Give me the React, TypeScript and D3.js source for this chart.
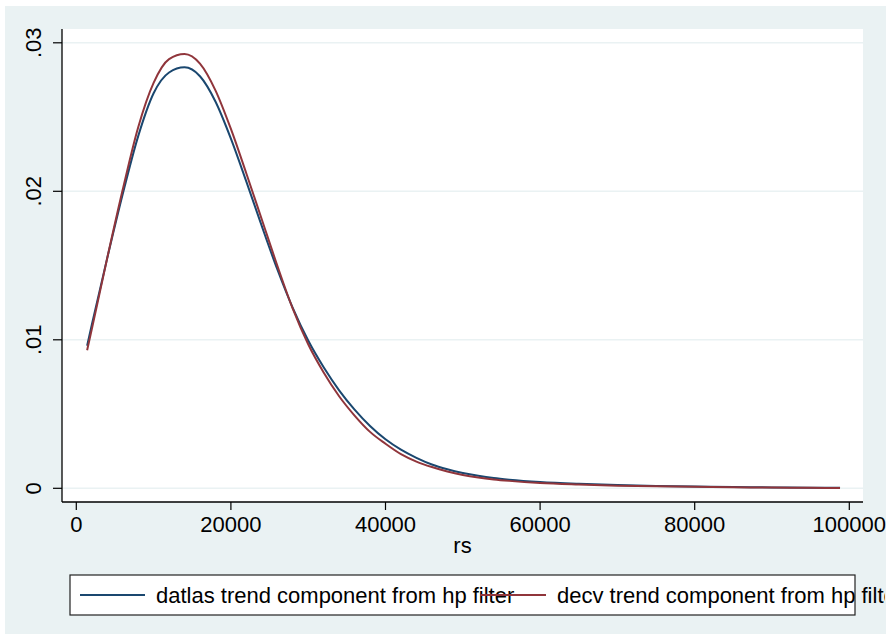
import React from "react";
import * as d3 from "d3";

const rsValues = [1400, 2000, 4000, 6000, 8000, 10000, 12000, 14000, 16000, 18000, 20000, 22000, 24000, 26000, 28000, 30000, 32000, 34000, 36000, 38000, 40000, 42000, 44000, 46000, 48000, 50000, 52000, 54000, 56000, 60000, 65000, 70000, 75000, 80000, 85000, 90000, 95000, 98800];
const datlasTrend = [0.0096, 0.0110, 0.0155, 0.0198, 0.0237, 0.0266, 0.0280, 0.02835, 0.02775, 0.02605, 0.02355, 0.02065, 0.01765, 0.01475, 0.01215, 0.00995, 0.00815, 0.0066, 0.0053, 0.0042, 0.0033, 0.0026, 0.00205, 0.0016, 0.00128, 0.00103, 0.00084, 0.00069, 0.00058, 0.00042, 0.0003, 0.00022, 0.00016, 0.00012, 0.00009, 0.00006, 0.00004, 0.00003];
const decvTrend = [0.0093, 0.0107, 0.0155, 0.0201, 0.0243, 0.0273, 0.0289, 0.02925, 0.0286, 0.0268, 0.0242, 0.0212, 0.0181, 0.0150, 0.0121, 0.0097, 0.0078, 0.0062, 0.0049, 0.0038, 0.0030, 0.0023, 0.0018, 0.00143, 0.00113, 0.0009, 0.00073, 0.0006, 0.0005, 0.00035, 0.00025, 0.00018, 0.00013, 0.0001, 0.00007, 0.00005, 0.00003, 0.00002];
const xTicks = [0, 20000, 40000, 60000, 80000, 100000];
const yTicks = [0, 0.01, 0.02, 0.03];
const yTickLabels = ["0", ".01", ".02", ".03"];
const seriesNames = ["datlas trend component from hp filter", "decv trend component from hp filter"];
const seriesColors = ["#1a476f", "#90353b"];

export default function App() {
  const W = 889, H = 640;
  const plot = { left: 62, right: 863, top: 29, bottom: 502 };
  const x = d3.scaleLinear().domain([0, 100000]).range([76.3, 849.3]);
  const y = d3.scaleLinear().domain([0, 0.03]).range([488.3, 42.8]);
  const fs = 22;
  const font = "'Liberation Sans', Arial, Helvetica, sans-serif";
  const line = d3
    .line<number>()
    .x((_, i) => x(rsValues[i]))
    .y((d) => y(d))
    .curve(d3.curveMonotoneX);
  const series = [datlasTrend, decvTrend];

  return (
    <svg width={W} height={H} style={{ position: "absolute", left: 0, top: 0 }} fontFamily={font}>
      <defs>
        <clipPath id="graphClip">
          <rect x={5} y={6} width={880} height={628} />
        </clipPath>
      </defs>
      <rect x={0} y={0} width={W} height={H} fill="#ffffff" />
      <rect x={5} y={6} width={881} height={628} fill="#eaf2f3" />
      <rect x={plot.left} y={plot.top} width={plot.right - plot.left} height={plot.bottom - plot.top} fill="#ffffff" />
      {yTicks.map((t) => (
        <line key={"g" + t} x1={plot.left} x2={plot.right} y1={y(t)} y2={y(t)} stroke="#eaf2f3" strokeWidth={1.6} />
      ))}
      {series.map((s, k) => (
        <path key={k} d={line(s) || ""} fill="none" stroke={seriesColors[k]} strokeWidth={2} />
      ))}
      <line x1={plot.left} x2={plot.left} y1={plot.top} y2={plot.bottom} stroke="#000" strokeWidth={1.3} />
      <line x1={plot.left} x2={plot.right} y1={plot.bottom} y2={plot.bottom} stroke="#000" strokeWidth={1.3} />
      {yTicks.map((t, i) => (
        <g key={"y" + t}>
          <line x1={plot.left - 9} x2={plot.left} y1={y(t)} y2={y(t)} stroke="#000" strokeWidth={1.2} />
          <text transform={`translate(41,${y(t)}) rotate(-90)`} textAnchor="middle" fontSize={fs} fill="#000">
            {yTickLabels[i]}
          </text>
        </g>
      ))}
      {xTicks.map((t) => (
        <g key={"x" + t}>
          <line x1={x(t)} x2={x(t)} y1={plot.bottom} y2={plot.bottom + 8} stroke="#000" strokeWidth={1.2} />
          <text x={x(t)} y={532} textAnchor="middle" fontSize={fs} fill="#000">
            {String(t)}
          </text>
        </g>
      ))}
      <text x={(plot.left + plot.right) / 2} y={553} textAnchor="middle" fontSize={fs} fill="#000">
        rs
      </text>
      <g clipPath="url(#graphClip)">
        <rect x={70} y={575} width={785} height={40} fill="#ffffff" stroke="#222" strokeWidth={1.2} />
        {seriesNames.map((name, k) => (
          <g key={name}>
            <line x1={80 + k * 400} x2={145 + k * 401} y1={595} y2={595} stroke={seriesColors[k]} strokeWidth={2} />
            <text x={156 + k * 401} y={603} fontSize={fs} fill="#000">
              {name}
            </text>
          </g>
        ))}
      </g>
    </svg>
  );
}
